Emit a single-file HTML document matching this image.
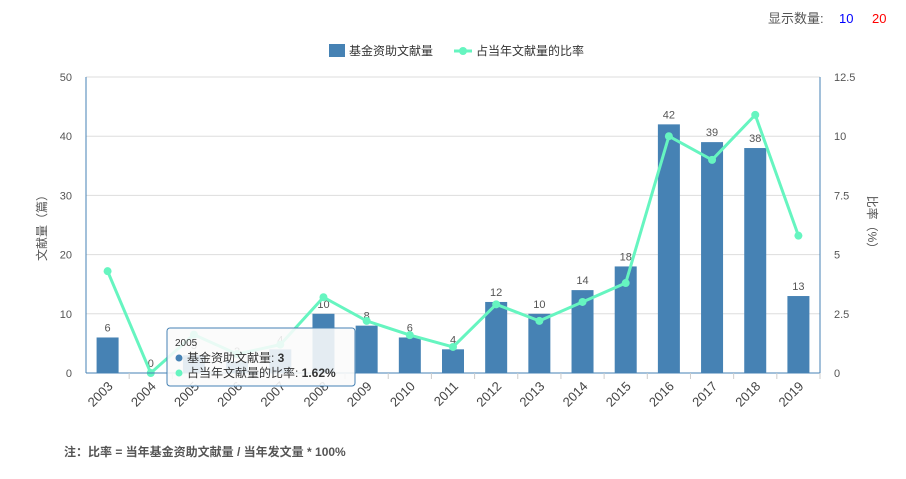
<!DOCTYPE html>
<html><head><meta charset="utf-8"><style>
body{margin:0;background:#fff;font-family:"Liberation Sans","Noto Sans CJK SC",sans-serif;}
svg text{font-family:"Liberation Sans","Noto Sans CJK SC",sans-serif;}
</style></head><body>
<svg id="c" width="906" height="474">
<text x="768" y="23" font-size="13" fill="#555">显示数量:</text>
<text x="839" y="23" font-size="13" fill="#00f">10</text>
<text x="872" y="23" font-size="13" fill="#f00">20</text>
<g>
<rect x="329" y="44" width="16" height="13" fill="#4682b4"/>
<text x="349" y="55" font-size="12" fill="#333">基金资助文献量</text>
<line x1="454" y1="51" x2="472" y2="51" stroke="#66f5c0" stroke-width="3"/>
<circle cx="463" cy="51" r="4" fill="#66f5c0"/>
<text x="476" y="55" font-size="12" fill="#333">占当年文献量的比率</text>
</g>
<g id="grid"></g><g id="bars"></g><g id="line"></g><g id="axes"></g>
<text transform="translate(46,225) rotate(-90)" text-anchor="middle" font-size="12" fill="#555">文献量（篇）</text>
<text transform="translate(868,225) rotate(90)" text-anchor="middle" font-size="12" fill="#555">比率（%）</text>
<g>
<rect x="167" y="328" width="188" height="58" rx="3" fill="rgba(250,250,250,0.88)" stroke="#4682b4"/>
<text x="175" y="346" font-size="10" fill="#333">2005</text>
<circle cx="179" cy="358" r="3.5" fill="#4682b4"/>
<text x="187" y="362" font-size="12" fill="#333">基金资助文献量: <tspan font-weight="bold">3</tspan></text>
<circle cx="179" cy="373" r="3.5" fill="#66f5c0"/>
<text x="187" y="377" font-size="12" fill="#333">占当年文献量的比率: <tspan font-weight="bold">1.62%</tspan></text>
</g>
<text x="64" y="456" font-size="12" font-weight="bold" fill="#555">注：比率 = 当年基金资助文献量 / 当年发文量 * 100%</text>
</svg>
<script>
const categories=["2003","2004","2005","2006","2007","2008","2009","2010","2011","2012","2013","2014","2015","2016","2017","2018","2019"];
const counts=[6,0,3,2,4,10,8,6,4,12,10,14,18,42,39,38,13];
const ratios=[4.3,0,1.62,0.8,1.2,3.2,2.2,1.6,1.1,2.9,2.2,3.0,3.8,10,9,10.9,5.8];
const leftTicks=[0,10,20,30,40,50];
const rightTicks=["0","2.5","5","7.5","10","12.5"];
const NS="http://www.w3.org/2000/svg";
const X0=86,X1=820,Y0=373,Y1=77,bw=(X1-X0)/categories.length;
const xc=i=>X0+bw*(i+0.5);
const yL=v=>Y0-(v/50)*(Y0-Y1);
const yR=v=>Y0-(v/12.5)*(Y0-Y1);
function mk(t,a,p){const e=document.createElementNS(NS,t);for(const k in a)e.setAttribute(k,a[k]);p.appendChild(e);return e;}
const g=document.getElementById('grid'),b=document.getElementById('bars'),l=document.getElementById('line'),ax=document.getElementById('axes');
leftTicks.forEach((v,i)=>{
 const y=yL(v);
 const gl=mk('line',{x1:X0,x2:X1,y1:y,y2:y,stroke:'#ddd'},g);
 
 
 const t=mk('text',{x:X0-14,y:y+4,'text-anchor':'end','font-size':11,fill:'#555'},ax);t.textContent=v;
 
 
 const t2=mk('text',{x:X1+14,y:y+4,'font-size':11,fill:'#555'},ax);t2.textContent=rightTicks[i];
 
 
});
mk('line',{x1:X0,x2:X0,y1:Y1,y2:Y0,stroke:'#4682b4'},ax);
mk('line',{x1:X1,x2:X1,y1:Y1,y2:Y0,stroke:'#4682b4'},ax);
mk('line',{x1:X0,x2:X1,y1:Y0,y2:Y0,stroke:'#4682b4'},ax);
categories.forEach((c,i)=>{
 const x=xc(i),w=22;
 const r=mk('rect',{x:x-w/2,y:yL(counts[i]),width:w,height:Y0-yL(counts[i]),fill:'#4682b4'},b);
 
 
 const vt=mk('text',{x:x,y:yL(counts[i])-6,'text-anchor':'middle','font-size':11,fill:'#555'},b);vt.textContent=counts[i];
 
 
 mk('line',{x1:X0+bw*(i+1),x2:X0+bw*(i+1),y1:Y0,y2:Y0+6,stroke:'#ccc'},ax);
 const t=mk('text',{transform:`translate(${x+6},${Y0+14}) rotate(-45)`,'text-anchor':'end','font-size':13,fill:'#444'},ax);t.textContent=c;
 
 
});
const pl=mk('polyline',{points:ratios.map((v,i)=>xc(i)+','+yR(v)).join(' '),fill:'none',stroke:'#66f5c0','stroke-width':3},l);


ratios.forEach((v,i)=>{
 const p=mk('circle',{cx:xc(i),cy:yR(v),r:4,fill:'#66f5c0'},l);
 
 
});
</script>
</body></html>
